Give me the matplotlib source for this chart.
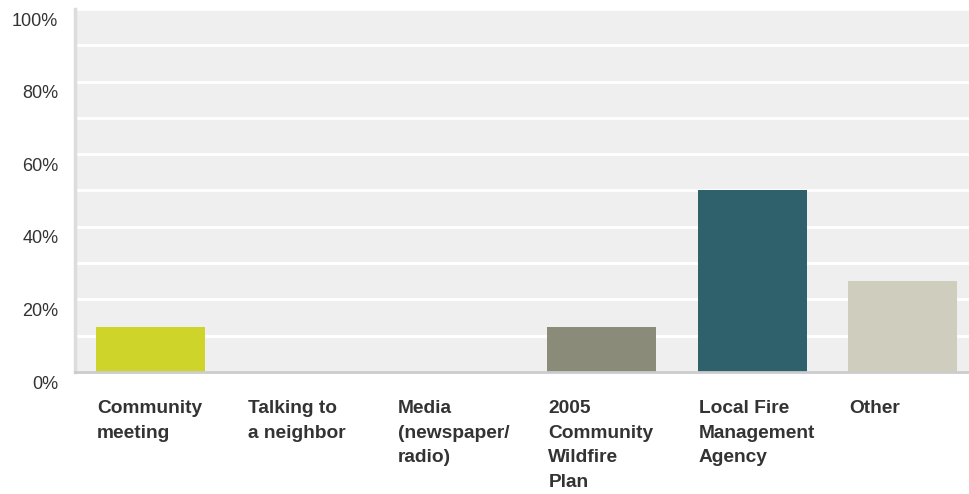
import matplotlib
matplotlib.use("Agg")
import matplotlib.pyplot as plt
import matplotlib.transforms as mtransforms
from matplotlib.ticker import MultipleLocator, FuncFormatter

# Survey answers: share of respondents (%)
categories = [
    "Community\nmeeting",
    "Talking to\na neighbor",
    "Media\n(newspaper/\nradio)",
    "2005\nCommunity\nWildfire\nPlan",
    "Local Fire\nManagement\nAgency",
    "Other",
]
shares = [12.5, 0.0, 0.0, 12.5, 50.0, 25.0]
bar_colors = ["#cfd42a", "#cfd42a", "#cfd42a", "#8a8b79", "#2f616d", "#cfcdbe"]

plt.rcParams["font.family"] = ["Liberation Sans", "DejaVu Sans"]

fig = plt.figure(figsize=(9.69, 4.94), dpi=100)
ax = fig.add_axes([75 / 969, 122 / 494, 894 / 969, 363 / 494])
ax.set_facecolor("#efefef")

width = 0.724
xs = list(range(len(categories)))
ax.bar(xs, shares, width=width, color=bar_colors, zorder=3)

ax.set_xlim(-0.502, 5.44)
ax.set_ylim(0, 100)

# white grid every 10 %, labels every 20 %
ax.yaxis.set_major_locator(MultipleLocator(20))
ax.yaxis.set_minor_locator(MultipleLocator(10))
ax.yaxis.set_major_formatter(FuncFormatter(lambda v, p: f"{v:.0f}%"))
ax.grid(True, axis="y", which="both", color="white", linewidth=2, zorder=1)
ax.tick_params(axis="y", which="both", length=0, pad=12, labelsize=13,
               labelcolor="#333333")
offset = mtransforms.ScaledTranslation(0, -10 / 100, fig.dpi_scale_trans)
for lbl in ax.get_yticklabels():
    lbl.set_transform(lbl.get_transform() + offset)

# category labels, left aligned with the bars
ax.set_xticks([x - width / 2 for x in xs])
ax.set_xticklabels(categories, ha="left", va="top", fontsize=13.8,
                   fontweight="bold", color="#333333", linespacing=1.6)
ax.tick_params(axis="x", length=0, pad=20)
offset_x = mtransforms.ScaledTranslation(1 / 100, 0, fig.dpi_scale_trans)
for lbl in ax.get_xticklabels():
    lbl.set_transform(lbl.get_transform() + offset_x)

for side in ("top", "right"):
    ax.spines[side].set_visible(False)
ax.spines["left"].set_color("#dcdcdc")
ax.spines["left"].set_linewidth(2.5)
ax.spines["bottom"].set_color("#cccccc")
ax.spines["bottom"].set_linewidth(2)
ax.spines["bottom"].set_zorder(4)

fig.savefig("out.png", dpi=100)
